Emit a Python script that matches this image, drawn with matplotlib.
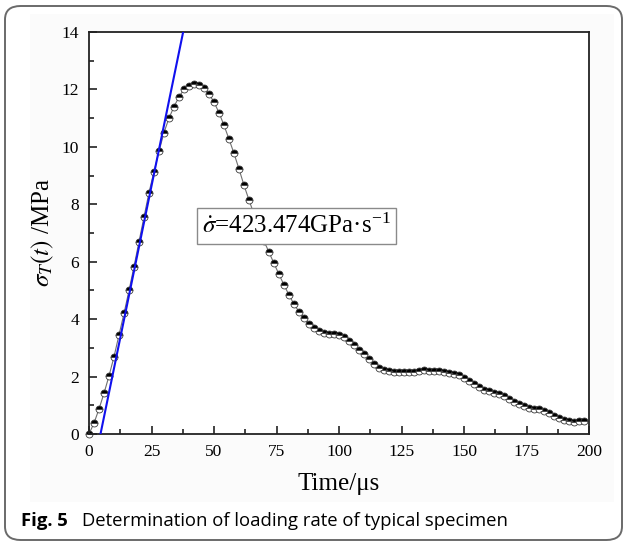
import numpy as np
import matplotlib
matplotlib.use("Agg")
import matplotlib.pyplot as plt
from matplotlib.patches import FancyBboxPatch, Rectangle
from matplotlib.ticker import MultipleLocator

# ---------------- data ----------------
time_us = list(range(0, 200, 2))
stress_mpa = [
    0.00, 0.38, 0.87, 1.42, 2.02, 2.69, 3.45, 4.20, 5.00, 5.83,
    6.70, 7.56, 8.41, 9.14, 9.84, 10.50, 11.00, 11.40, 11.74, 12.00,
    12.12, 12.18, 12.16, 12.04, 11.84, 11.56, 11.19, 10.75, 10.27, 9.77,
    9.23, 8.66, 8.15, 7.65, 7.15, 6.72, 6.33, 5.94, 5.56, 5.19,
    4.84, 4.52, 4.26, 4.04, 3.83, 3.68, 3.57, 3.52, 3.49, 3.50,
    3.44, 3.37, 3.24, 3.09, 2.93, 2.78, 2.60, 2.44, 2.29, 2.23,
    2.19, 2.16, 2.16, 2.17, 2.17, 2.17, 2.19, 2.22, 2.19, 2.19,
    2.18, 2.15, 2.13, 2.10, 2.07, 1.96, 1.85, 1.74, 1.64, 1.54,
    1.50, 1.44, 1.38, 1.31, 1.22, 1.11, 1.04, 0.98, 0.91, 0.87,
    0.87, 0.80, 0.72, 0.63, 0.55, 0.49, 0.45, 0.43, 0.44, 0.44,
]
rate_mpa_per_us = 0.423474     # 423.474 GPa/s
fit_start_us = 4.6
fit_y = [0.0, 14.0]

x_ticks = [0, 25, 50, 75, 100, 125, 150, 175, 200]
y_ticks = [0, 2, 4, 6, 8, 10, 12, 14]
x_label = "Time/\u03bcs"
y_label = r"$\sigma_T(t)$ /MPa"
annot = "$\\dot{\\sigma}$=423.474GPa\u00b7s$^{\\mathregular{-1}}$"
caption_bold = "Fig. 5"
caption_text = "Determination of loading rate of typical specimen"

# ---------------- style ----------------
plt.rcParams["font.family"] = ["Liberation Serif", "DejaVu Serif"]
plt.rcParams["mathtext.fontset"] = "stix"

W, H = 624, 541
fig = plt.figure(figsize=(W / 100, H / 100), dpi=100)

def fx(px):
    return px / W

def fy(py):
    return 1 - py / H

# outer rounded frame
frame = FancyBboxPatch((fx(5), fy(540)), fx(617), (540 - 6) / H,
                       boxstyle="round,pad=0,rounding_size=0.025",
                       transform=fig.transFigure, facecolor="white",
                       edgecolor="#6a6a6a", linewidth=1.4, zorder=-10)
fig.patches.append(frame)
fig.patches.append(Rectangle((fx(30), fy(502)), fx(584), (502 - 14) / H,
                             transform=fig.transFigure, facecolor="#fbfbfb",
                             edgecolor="none", zorder=-9))

ax = fig.add_axes([fx(89), fy(434), fx(500), (434 - 32) / H])
ax.set_facecolor("white")

ax.plot(time_us, stress_mpa, color="#6f6f6f", lw=0.8, zorder=2,
        marker="o", markersize=5, fillstyle="top",
        markerfacecolor="black", markerfacecoloralt="white",
        markeredgecolor="#3a3a3a", markeredgewidth=0.6, clip_on=False)

fit_t = [fit_start_us + v / rate_mpa_per_us for v in fit_y]
ax.plot(fit_t, fit_y, color="#1010ee", lw=1.5, zorder=3)

ax.set_xlim(0, 200)
ax.set_ylim(0, 14)
ax.set_xticks(x_ticks)
ax.set_yticks(y_ticks)
ax.xaxis.set_minor_locator(MultipleLocator(12.5))
ax.yaxis.set_minor_locator(MultipleLocator(1))
ax.tick_params(which="both", direction="in", top=False, right=False,
               width=1.2, color="#222222")
ax.tick_params(which="major", length=6, labelsize=12.5, pad=7)
ax.tick_params(which="minor", length=3.5)
for s in ax.spines.values():
    s.set_linewidth(1.3)
    s.set_color("#222222")

ax.set_xlabel(x_label, fontsize=18)
ax.xaxis.set_label_coords(0.5, -0.098)
ax.set_ylabel(y_label, fontsize=18)
ax.yaxis.set_label_coords(-0.066, 0.5)

ax.text(83, 7.24, annot, fontsize=18, ha="center", va="center", zorder=4,
        bbox=dict(boxstyle="square,pad=0.22", facecolor="white",
                  edgecolor="#8a8a8a", linewidth=1.0))

fig.text(fx(21), fy(526), caption_bold, fontsize=13.3, fontweight="bold",
         family=["Open Sans", "DejaVu Sans"], va="baseline", ha="left")
fig.text(fx(82), fy(526), caption_text, fontsize=13.3,
         family=["Open Sans", "DejaVu Sans"], va="baseline", ha="left")

fig.savefig("out.png", dpi=100)
